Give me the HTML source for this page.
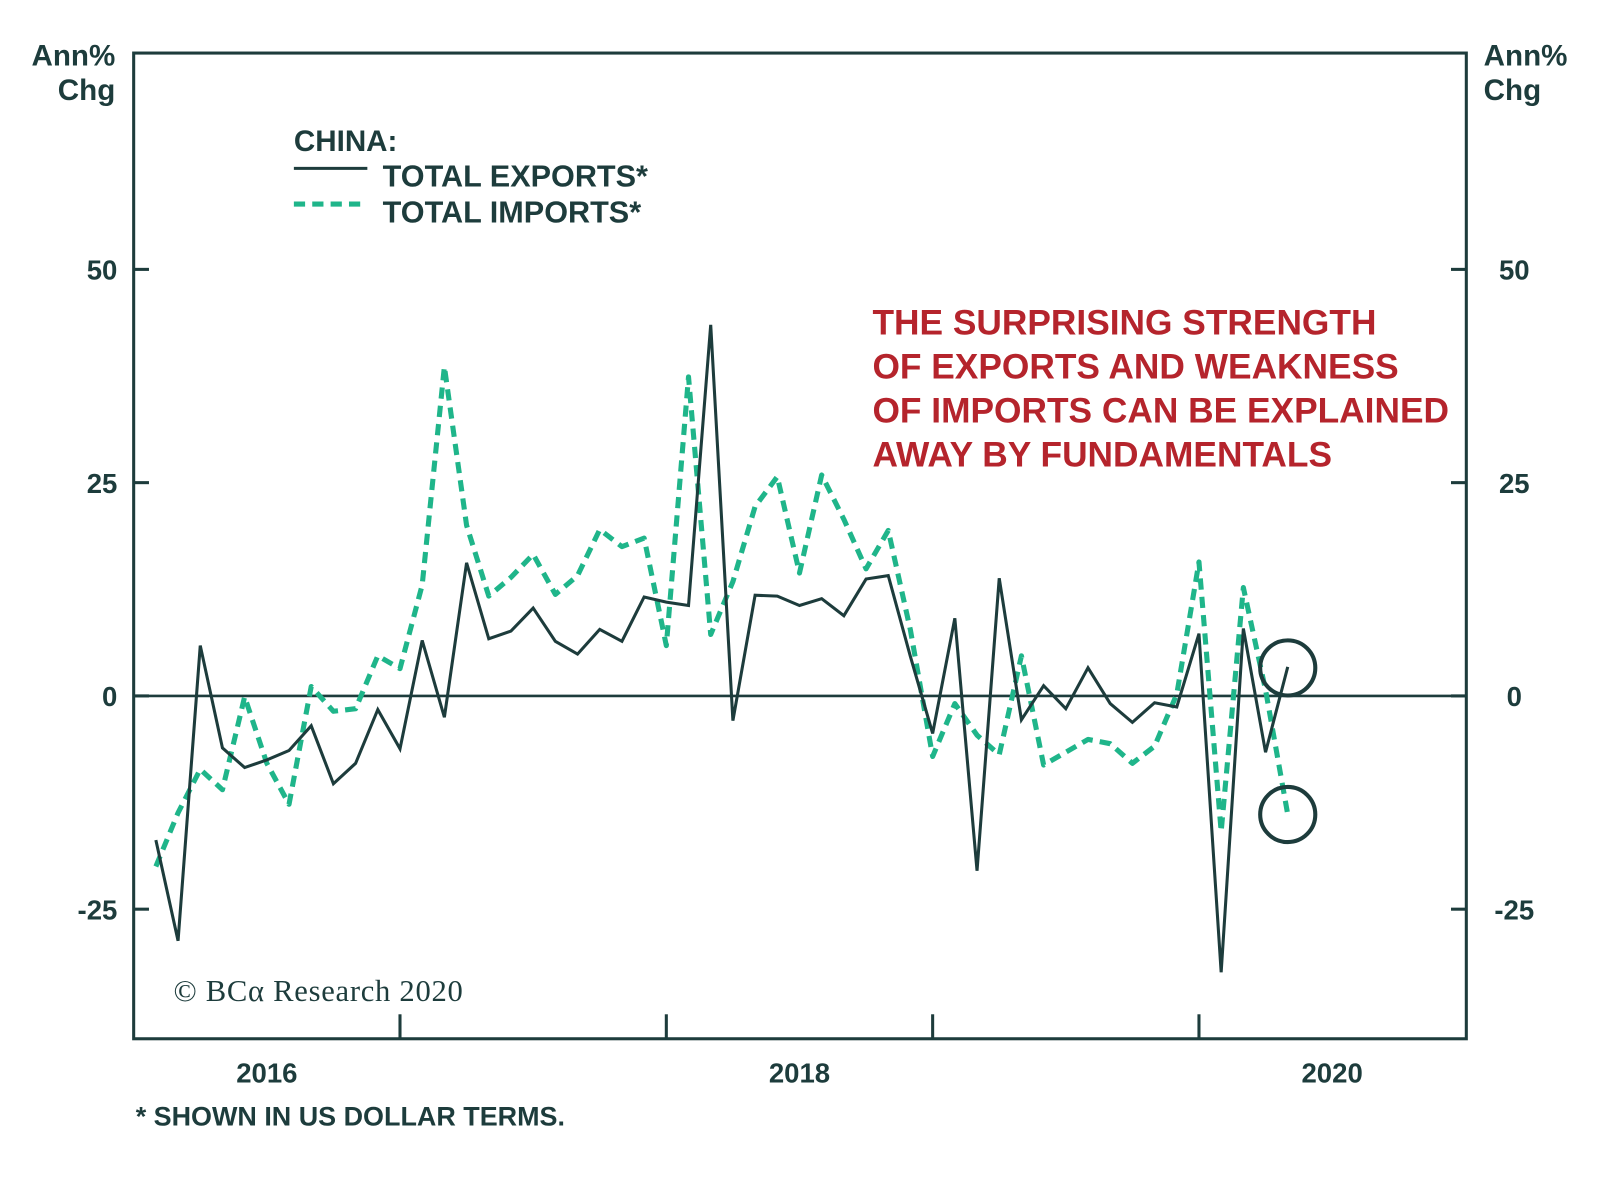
<!DOCTYPE html>
<html><head><meta charset="utf-8"><style>
body{margin:0;background:#fff;}
svg{display:block;font-family:"Liberation Sans",sans-serif;}
</style></head><body>
<svg width="1600" height="1186" viewBox="0 0 1600 1186">
<g transform="scale(1.0204)">
<g id="axes"></g>
<g id="series"></g>
<text x="113" y="64" text-anchor="end" font-size="29" font-weight="bold" fill="#1d3c3c">Ann%</text>
<text x="113" y="98" text-anchor="end" font-size="29" font-weight="bold" fill="#1d3c3c">Chg</text>
<text x="1454" y="64" font-size="29" font-weight="bold" fill="#1d3c3c">Ann%</text>
<text x="1454" y="98" font-size="29" font-weight="bold" fill="#1d3c3c">Chg</text>
<g>
<text x="288" y="148" font-size="29" font-weight="bold" fill="#1d3c3c">CHINA:</text>
<line x1="288" y1="165" x2="360" y2="165" stroke="#1d3c3c" stroke-width="3"/>
<text x="375" y="183" font-size="30" font-weight="bold" fill="#1d3c3c">TOTAL EXPORTS*</text>
<line x1="288" y1="200" x2="360" y2="200" stroke="#1fb58a" stroke-width="5" stroke-dasharray="11,7"/>
<text x="375" y="218" font-size="30" font-weight="bold" fill="#1d3c3c">TOTAL IMPORTS*</text>
</g>
<g font-size="34.6" font-weight="bold" fill="#b5242c">
<text x="855" y="328">THE SURPRISING STRENGTH</text>
<text x="855" y="371">OF EXPORTS AND WEAKNESS</text>
<text x="855" y="414">OF IMPORTS CAN BE EXPLAINED</text>
<text x="855" y="457">AWAY BY FUNDAMENTALS</text>
</g>
<text x="170" y="981" font-family="'Liberation Serif',serif" font-size="30" letter-spacing="0.7" fill="#1d3c3c">© BCα Research 2020</text>
<text x="133" y="1103" font-size="26.4" font-weight="bold" fill="#1d3c3c">* SHOWN IN US DOLLAR TERMS.</text>
</g>
</svg>
<script>
const exportsVals=[-16.9,-28.7,5.9,-6.1,-8.4,-7.5,-6.4,-3.5,-10.3,-7.9,-1.6,-6.2,6.5,-2.5,15.6,6.7,7.6,10.3,6.4,4.9,7.8,6.4,11.6,11,10.6,43.5,-2.9,11.8,11.7,10.6,11.4,9.4,13.7,14.1,4.6,-4.4,9.1,-20.5,13.8,-2.8,1.2,-1.5,3.3,-0.9,-3.1,-0.8,-1.3,7.3,-32.4,7.9,-6.6,3.4];
const importsVals=[-20,-13.7,-8.6,-11,-0.1,-7.9,-12.7,1.1,-1.8,-1.5,4.7,3.2,13,38.6,20,11.7,13.9,16.6,11.9,14.1,19.5,17.5,18.5,5.9,37.4,7.2,13.4,22.2,25.7,14.4,25.9,20.7,14.9,19.4,7.7,-7.1,-0.9,-4.6,-6.9,4.7,-8.1,-6.6,-5.1,-5.6,-7.9,-5.9,0.2,15.7,-15.9,12.7,0.7,-13.9];
const yTicks=[50,25,0,-25];
const yearLabels=["2016","2018","2020"];
const NS="http://www.w3.org/2000/svg";
const L=131,R=1437,T=52,B=1018;
function yS(v){return 682-v*8.36;}
function xS(i){return L+21.75*(i+1);}
function mk(tag,attrs,parent){const e=document.createElementNS(NS,tag);for(const k in attrs)e.setAttribute(k,attrs[k]);parent.appendChild(e);return e;}
const ax=document.getElementById('axes'),se=document.getElementById('series');
let f=mk('rect',{x:L,y:T,width:R-L,height:B-T,fill:'none',stroke:'#1d3c3c','stroke-width':3},ax);


yTicks.forEach(v=>{
 const y=yS(v);
 let t1=mk('line',{x1:L,y1:y,x2:L+15,y2:y,stroke:'#1d3c3c','stroke-width':3},ax);
 
 
 let t2=mk('line',{x1:R-15,y1:y,x2:R,y2:y,stroke:'#1d3c3c','stroke-width':3},ax);
 
 
 let a=mk('text',{x:115,y:y+10,'text-anchor':'end','font-size':27,'font-weight':'bold',fill:'#1d3c3c'},ax);a.textContent=v;
 
 
 let b=mk('text',{x:1484,y:y+10,'text-anchor':'middle','font-size':27,'font-weight':'bold',fill:'#1d3c3c'},ax);b.textContent=v;
 
 
});
let z=mk('line',{x1:L,y1:yS(0),x2:R,y2:yS(0),stroke:'#1d3c3c','stroke-width':2.5},ax);


for(let k=1;k<5;k++){
 const x=L+261*k;
 let t=mk('line',{x1:x,y1:B,x2:x,y2:B-24,stroke:'#1d3c3c','stroke-width':3},ax);
 
 
}
yearLabels.forEach((s,j)=>{
 let t=mk('text',{x:L+130.5+522*j,y:1061,'text-anchor':'middle','font-size':27,'font-weight':'bold',fill:'#1d3c3c'},ax);t.textContent=s;
 
 
});
let pi=mk('polyline',{points:importsVals.map((v,i)=>xS(i)+','+yS(v)).join(' '),fill:'none',stroke:'#1fb58a','stroke-width':5,'stroke-dasharray':'11,7','stroke-linejoin':'round'},se);


let pe=mk('polyline',{points:exportsVals.map((v,i)=>xS(i)+','+yS(v)).join(' '),fill:'none',stroke:'#1d3c3c','stroke-width':3,'stroke-linejoin':'miter'},se);


const n=exportsVals.length-1;
let c1=mk('circle',{cx:xS(n),cy:yS(exportsVals[n])+1,r:27,fill:'none',stroke:'#1d3c3c','stroke-width':4},se);


let c2=mk('circle',{cx:xS(n),cy:yS(importsVals[n]),r:27,fill:'none',stroke:'#1d3c3c','stroke-width':4},se);


</script>
</body></html>
